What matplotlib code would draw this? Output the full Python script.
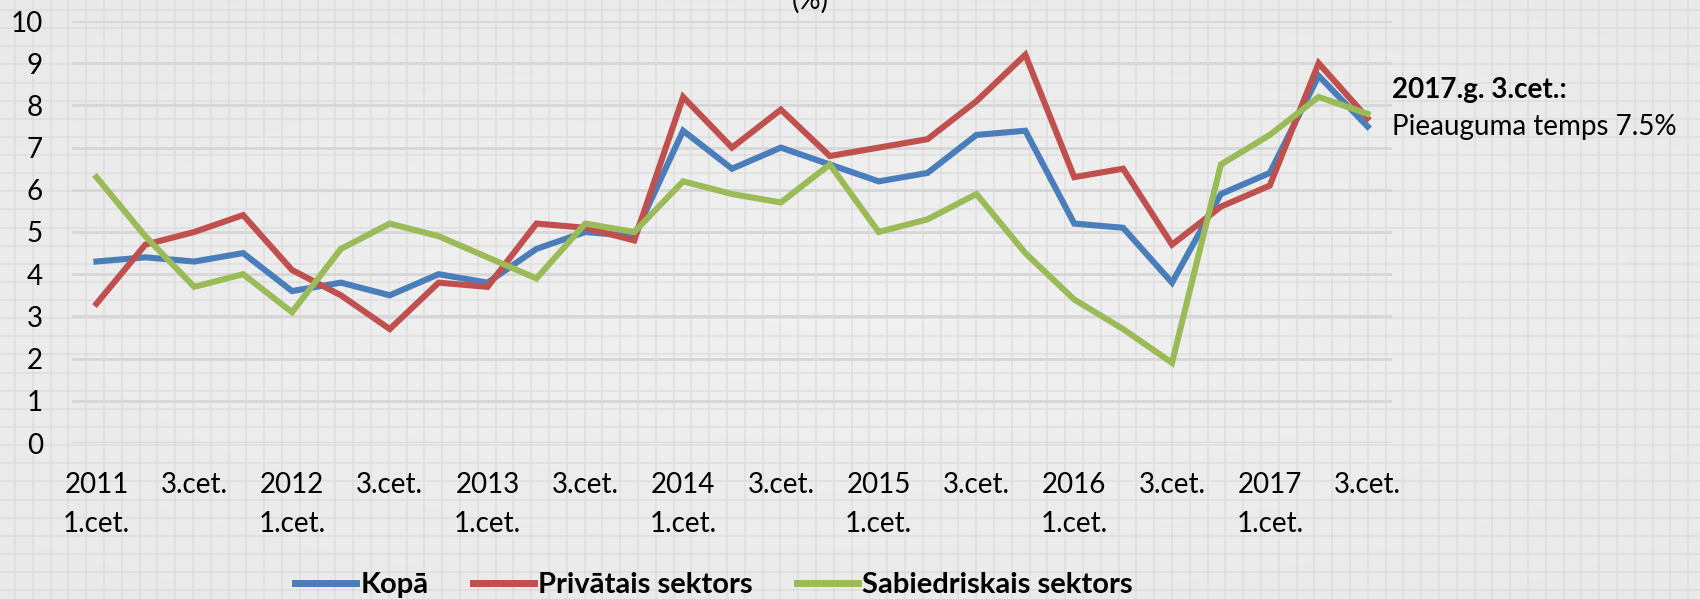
import numpy as np
import matplotlib
matplotlib.use("Agg")
import matplotlib.pyplot as plt

plt.rcParams['font.family'] = ['Lato', 'DejaVu Sans']

# ceturkšņi 2011 1.cet. - 2017 3.cet.
years = ["2011", "2012", "2013", "2014", "2015", "2016", "2017"]
quarters = ["1.cet.", "2.cet.", "3.cet.", "4.cet."]
categories = []
for y in years:
    for q in quarters:
        if q == "1.cet.":
            categories.append(y + " " + q)
        else:
            categories.append(q)
categories = categories[:27]

kopa = [4.3, 4.4, 4.3, 4.5, 3.6, 3.8, 3.5, 4.0, 3.8, 4.6, 5.0, 4.9,
        7.4, 6.5, 7.0, 6.6, 6.2, 6.4, 7.3, 7.4, 5.2, 5.1, 3.8, 5.9,
        6.4, 8.7, 7.5]
privatais = [3.3, 4.7, 5.0, 5.4, 4.1, 3.5, 2.7, 3.8, 3.7, 5.2, 5.1, 4.8,
             8.2, 7.0, 7.9, 6.8, 7.0, 7.2, 8.1, 9.2, 6.3, 6.5, 4.7, 5.6,
             6.1, 9.0, 7.7]
sabiedriskais = [6.3, 4.9, 3.7, 4.0, 3.1, 4.6, 5.2, 4.9, 4.4, 3.9, 5.2, 5.0,
                 6.2, 5.9, 5.7, 6.6, 5.0, 5.3, 5.9, 4.5, 3.4, 2.7, 1.9, 6.6,
                 7.3, 8.2, 7.8]
series_names = ["Kopā", "Privātais sektors", "Sabiedriskais sektors"]
colors = ["#4A7EBB", "#C0504D", "#9BBB59"]

W, H = 1700, 599
fig = plt.figure(figsize=(W / 100, H / 100), dpi=100)
fig.patch.set_facecolor("#ECECEC")

# background: light vignette + grid paper
bg = fig.add_axes([0, 0, 1, 1], zorder=-5)
gx, gy = np.meshgrid(np.linspace(0, 1, 340), np.linspace(0, 1, 120))
d = np.sqrt(((gx - 0.5) / 0.9) ** 2 + ((gy - 0.5) / 0.8) ** 2)
bg.imshow(0.94 - 0.035 * d, cmap="gray", vmin=0, vmax=1, extent=[0, W, H, 0],
          aspect="auto", interpolation="bilinear")
for x in np.arange(15, W, 17.8):
    bg.axvline(x, color="#D8D8D8", lw=1.4, alpha=0.55)
for y in np.arange(10, H, 18.13):
    bg.axhline(y, color="#D8D8D8", lw=1.4, alpha=0.55)
bg.set_xlim(0, W)
bg.set_ylim(H, 0)
bg.axis("off")

ax = fig.add_axes([72 / W, 1 - 443 / H, (1392 - 72) / W, (443 - 21) / H])
ax.patch.set_alpha(0)
xpos = np.arange(len(categories))
for vals, name, c in zip([kopa, privatais, sabiedriskais], series_names, colors):
    ax.plot(xpos, vals, color=c, lw=4.4, label=name, solid_joinstyle="miter")

ax.set_xlim(-0.5, len(categories) - 0.5)
ax.set_ylim(0, 10)
ax.set_yticks(range(0, 11))
ax.yaxis.grid(True, color="#D6D6D6", lw=2)
ax.set_axisbelow(True)
ax.set_xticks(xpos[::2])
ax.set_xticklabels([c.replace(" ", "\n") for c in categories[::2]],
                   fontsize=20, linespacing=1.6)
ax.tick_params(axis="y", labelsize=20, length=0, pad=21)
ax.tick_params(axis="x", length=0, pad=21)
for s in ax.spines.values():
    s.set_visible(False)

fig.text(810 / W, 1 - 9 / H, "(%)", ha="center", va="baseline", fontsize=20)

fig.text(1392 / W, 1 - 90 / H, "2017.g. 3.cet.:", fontsize=20,
         fontweight="bold", va="center", ha="left")
fig.text(1392 / W, 1 - 127 / H, "Pieauguma temps 7.5%", fontsize=20,
         va="center", ha="left")

leg = fig.legend(loc="center", bbox_to_anchor=(714 / W, 1 - 585 / H), ncol=3,
                 frameon=False, handlelength=2.1, handletextpad=0.15,
                 columnspacing=1.5, prop={"size": 21, "weight": "bold"})
for l in leg.get_lines():
    l.set_linewidth(5)

fig.savefig("out.png", dpi=100, facecolor=fig.get_facecolor())
